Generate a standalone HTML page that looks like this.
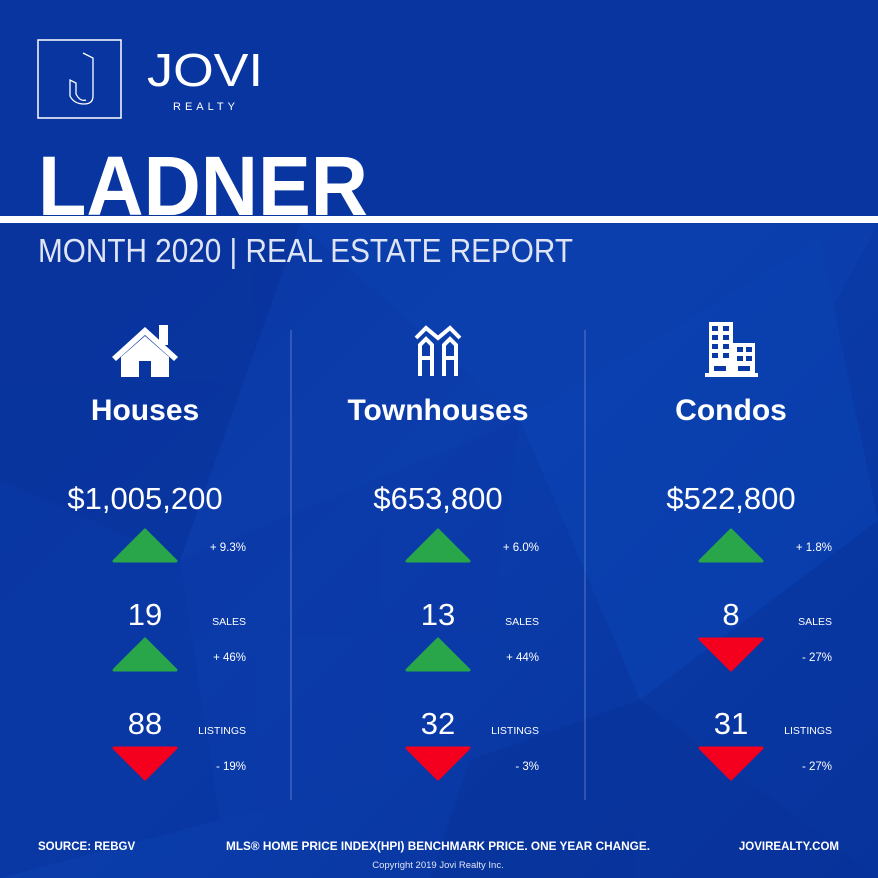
<!DOCTYPE html>
<html><head><meta charset="utf-8"><style>
html,body{margin:0;padding:0;width:878px;height:878px;overflow:hidden;background:#0a37a2}
svg{display:block;font-family:"Liberation Sans",sans-serif}
</style></head><body>
<svg id="c" width="878" height="878" viewBox="0 0 878 878">
<defs>
<linearGradient id="bg" x1="0" y1="0" x2="1" y2="1">
<stop offset="0" stop-color="#0a35a0"/><stop offset="0.5" stop-color="#0b3dab"/><stop offset="1" stop-color="#07339c"/>
</linearGradient>
</defs>
<rect width="878" height="878" fill="url(#bg)"/>
<g opacity="0.5">
<polygon points="0,224 300,224 180,560 0,480" fill="#083098"/>
<polygon points="300,224 878,224 820,330 520,420" fill="#0c42b2"/>
<polygon points="180,560 520,420 470,760 220,820" fill="#0b3aa8"/>
<polygon points="520,420 820,240 878,520 640,700" fill="#0a44b6"/>
<polygon points="0,480 180,560 220,820 0,878" fill="#0834a0"/>
<polygon points="470,760 640,700 878,878 430,878" fill="#083299"/>
</g>
<rect x="0" y="0" width="878" height="216" fill="#0835a0"/>
<g>
<rect x="38" y="40" width="83" height="78" fill="none" stroke="#fff" stroke-width="1.5"/>
<path d="M83,53 L93,58 L93,96 Q93,104 84,104 Q74,104 70,96 L70,80 L76,83 L76,94 Q80,102 86,100" fill="none" stroke="#fff" stroke-width="1.3"/>
<text x="147" y="86" font-size="46" fill="#fff" font-weight="300" textLength="116" lengthAdjust="spacingAndGlyphs">JOVI</text>
<text x="173" y="110" font-size="11" fill="#fff" letter-spacing="4">REALTY</text>
</g>
<text x="38" y="215" font-size="84" font-weight="bold" fill="#fff" textLength="330" lengthAdjust="spacingAndGlyphs">LADNER</text>
<rect x="0" y="216" width="878" height="7" fill="#fff"/>
<text x="38" y="262" font-size="33" fill="#dfe5f4" textLength="535" lengthAdjust="spacingAndGlyphs">MONTH 2020 | REAL ESTATE REPORT</text>
<line x1="291" y1="330" x2="291" y2="800" stroke="#8aa2dd" stroke-width="1" opacity="0.6"/>
<line x1="585" y1="330" x2="585" y2="800" stroke="#8aa2dd" stroke-width="1" opacity="0.6"/>
<g fill="#fff">
<polygon points="112,357 145,327 178,357 174,361 145,335 116,361"/>
<rect x="159" y="325" width="9" height="20"/>
<path d="M121,357 L145,336 L169,357 L169,377 L151,377 L151,361 L139,361 L139,377 L121,377Z"/>
</g>
<g fill="none" stroke="#fff" stroke-width="4">
<polyline points="416,338 426,328 438,338 450,328 460,338"/>
<path d="M420,376 L420,345 L426,339 L432,345 L432,376 M420,358 L432,358"/>
<path d="M444,376 L444,345 L450,339 L456,345 L456,376 M444,358 L456,358"/>
</g>
<g fill="#fff">
<rect x="705" y="373" width="53" height="4"/>
<rect x="709" y="322" width="24" height="52"/>
<rect x="733" y="343" width="22" height="31"/>
<g fill="#0a39a6">
<rect x="712" y="326" width="6" height="5"/><rect x="723" y="326" width="6" height="5"/>
<rect x="712" y="335" width="6" height="5"/><rect x="723" y="335" width="6" height="5"/>
<rect x="712" y="344" width="6" height="5"/><rect x="723" y="344" width="6" height="5"/>
<rect x="712" y="353" width="6" height="5"/><rect x="723" y="353" width="6" height="5"/>
<rect x="737" y="347" width="6" height="5"/><rect x="746" y="347" width="6" height="5"/>
<rect x="737" y="356" width="6" height="5"/><rect x="746" y="356" width="6" height="5"/>
<rect x="714" y="366" width="12" height="5"/><rect x="738" y="366" width="12" height="5"/>
</g>
</g>
<g id="cols"></g>
<g fill="#fff" font-weight="bold" font-size="11.5">
<text x="38" y="850">SOURCE:  REBGV</text>
<text x="438" y="850" text-anchor="middle" textLength="424" lengthAdjust="spacingAndGlyphs">MLS® HOME PRICE INDEX(HPI) BENCHMARK PRICE. ONE YEAR CHANGE.</text>
<text x="839" y="850" text-anchor="end">JOVIREALTY.COM</text>
<text x="438" y="868" text-anchor="middle" font-weight="normal" font-size="9.5" fill="#dfe5f5">Copyright 2019 Jovi Realty Inc.</text>
</g>
</svg>
<script>
const categories = ["Houses", "Townhouses", "Condos"];
const prices = ["$1,005,200", "$653,800", "$522,800"];
const priceChange = [9.3, 6.0, 1.8];
const sales = [19, 13, 8];
const salesChange = [46, 44, -27];
const listings = [88, 32, 31];
const listingsChange = [-19, -3, -27];

const NS = "http://www.w3.org/2000/svg";
const root = document.getElementById("cols");
const colX = i => 145 + i * 293;
function mk(tag, attrs, parent) {
  const e = document.createElementNS(NS, tag);
  for (const k in attrs) e.setAttribute(k, attrs[k]);
  parent.appendChild(e);
  return e;
}
function fmt(v, dec) {
  return (v >= 0 ? "+ " : "- ") + Math.abs(v).toFixed(dec) + "%";
}
function tri(cx, top, v, parent, name) {
  const up = v >= 0;
  const w = 31, h = 31, r = 3;
  const pts = up
    ? `${cx-w},${top+h} ${cx},${top} ${cx+w},${top+h}`
    : `${cx-w},${top} ${cx},${top+h} ${cx+w},${top}`;
  const t = mk("polygon", {points: pts, fill: up ? "#2aa64a" : "#f4001e", stroke: up ? "#2aa64a" : "#f4001e", "stroke-width": r, "stroke-linejoin": "round"}, parent);
  
  
}
categories.forEach((c, i) => {
  const cx = colX(i), rx = cx + 101;
  const g = mk("g", {}, root);
  
  
  let t = mk("text", {x: cx, y: 420, "text-anchor": "middle", "font-size": 30, "font-weight": "bold", fill: "#fff"}, g);
  t.textContent = c;
  
  
  t = mk("text", {x: cx, y: 509, "text-anchor": "middle", "font-size": 31, fill: "#fff"}, g);
  t.textContent = prices[i];
  
  
  tri(cx, 530, priceChange[i], g, 'price-change-arrow');
  t = mk("text", {x: rx, y: 551, "text-anchor": "end", "font-size": 11.5, fill: "#fff"}, g);
  t.textContent = fmt(priceChange[i], 1);
  
  
  t = mk("text", {x: cx, y: 625, "text-anchor": "middle", "font-size": 31, fill: "#fff"}, g);
  t.textContent = sales[i];
  
  
  t = mk("text", {x: rx, y: 625, "text-anchor": "end", "font-size": 10.5, fill: "#fff"}, g);
  t.textContent = "SALES";
  
  
  tri(cx, 639, salesChange[i], g, 'sales-change-arrow');
  t = mk("text", {x: rx, y: 661, "text-anchor": "end", "font-size": 11.5, fill: "#fff"}, g);
  t.textContent = fmt(salesChange[i], 0);
  
  
  t = mk("text", {x: cx, y: 734, "text-anchor": "middle", "font-size": 31, fill: "#fff"}, g);
  t.textContent = listings[i];
  
  
  t = mk("text", {x: rx, y: 734, "text-anchor": "end", "font-size": 10.5, fill: "#fff"}, g);
  t.textContent = "LISTINGS";
  
  
  tri(cx, 748, listingsChange[i], g, 'listings-change-arrow');
  t = mk("text", {x: rx, y: 770, "text-anchor": "end", "font-size": 11.5, fill: "#fff"}, g);
  t.textContent = fmt(listingsChange[i], 0);
  
  
});
</script>
</body></html>
